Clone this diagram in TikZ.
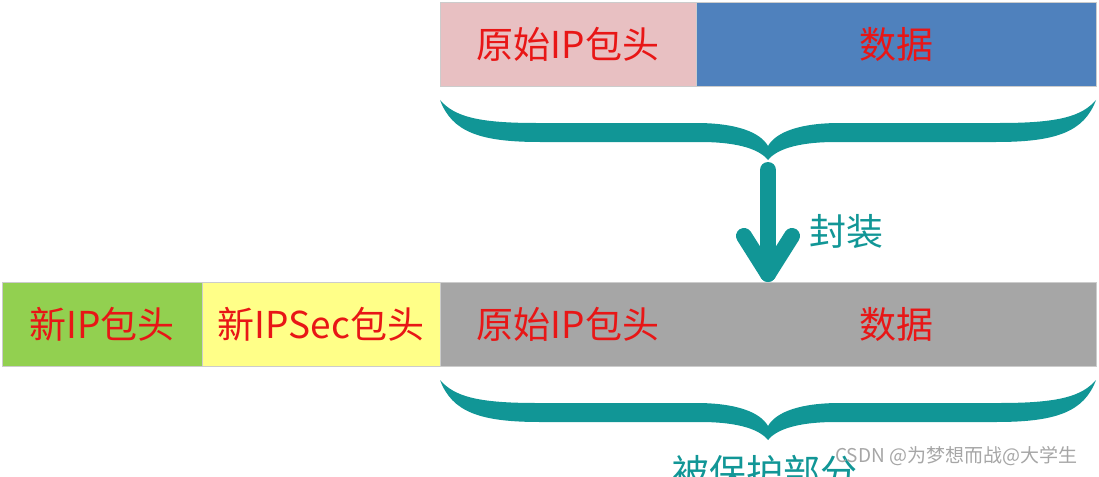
\documentclass[tikz,border=0pt]{standalone}
\usepackage{fontspec}
\newfontfamily\cjk{Noto Sans CJK SC}
\usetikzlibrary{calc}
\definecolor{tealc}{RGB}{17,150,150}
\definecolor{redc}{RGB}{232,22,22}
\definecolor{pinkc}{RGB}{232,192,194}
\definecolor{bluec}{RGB}{79,129,189}
\definecolor{greenc}{RGB}{146,208,80}
\definecolor{yellowc}{RGB}{255,255,136}
\definecolor{grayc}{RGB}{166,166,166}
\begin{document}
\begin{tikzpicture}[x=1pt,y=-1pt,
  box/.style={draw=black!20, line width=0.6pt, inner sep=0pt, outer sep=0pt,
    text=redc, font=\cjk\fontsize{37}{40}\selectfont, minimum height=84pt},
  tealline/.style={draw=tealc, line width=16pt, line cap=round, line join=round},
  bracefill/.style={fill=tealc},
  lbl/.style={inner sep=0pt, font=\cjk\fontsize{37}{40}\selectfont}]
\useasboundingbox (0,0) rectangle (1099,476);
% top row
\node[box, fill=pinkc, minimum width=256pt] (oh) at (568,44) {原始IP包头};
\node[box, fill=bluec, minimum width=400pt] (od) at (896,44) {数据};
% bottom row
\node[box, fill=greenc, minimum width=200pt] (nh) at (102,324) {新IP包头};
\node[box, fill=yellowc, minimum width=238pt] (ns) at (321,324) {新IPSec包头};
\node[box, fill=grayc, minimum width=656pt] (pb) at (768,324) {};
\node[box, draw=none, fill=none] (ph) at (568,324) {原始IP包头};
\node[box, draw=none, fill=none] (pd) at (896,324) {数据};
% braces
\foreach \dy in {0,280}{
\begin{scope}[shift={(0,\dy)}]
\fill[bracefill] (440,100)
  .. controls (452,132) and (480,142) .. (540,142)
  -- (700,142)
  .. controls (740,142) and (760,150) .. (768,160)
  .. controls (776,150) and (796,142) .. (836,142)
  -- (996,142)
  .. controls (1056,142) and (1084,132) .. (1096,100)
  .. controls (1082,116) and (1060,123) .. (1000,123)
  -- (840,123)
  .. controls (800,123) and (776,132) .. (768,146)
  .. controls (760,132) and (736,123) .. (696,123)
  -- (536,123)
  .. controls (476,123) and (454,116) .. (440,100) -- cycle;
\end{scope}}
\coordinate (t1) at (768,170);
% arrow
\draw[tealline] (t1) -- ($(pb.north)+(0,-8)$);
\draw[tealline] ($(pb.north)+(-24,-46)$) -- ($(pb.north)+(0,-8)$) -- ($(pb.north)+(24,-46)$);
\node[lbl, text=tealc] (enc) at (846,232) {封装};
% label under bottom brace
\node[lbl, text=tealc, anchor=base] (prot) at (765,486) {被保护部分};
% watermark
\node[inner sep=0pt, anchor=west, text=black!35, font=\cjk\fontsize{19}{21}\selectfont] (wm) at (835,456) {CSDN @为梦想而战@大学生};
\end{tikzpicture}
\end{document}
